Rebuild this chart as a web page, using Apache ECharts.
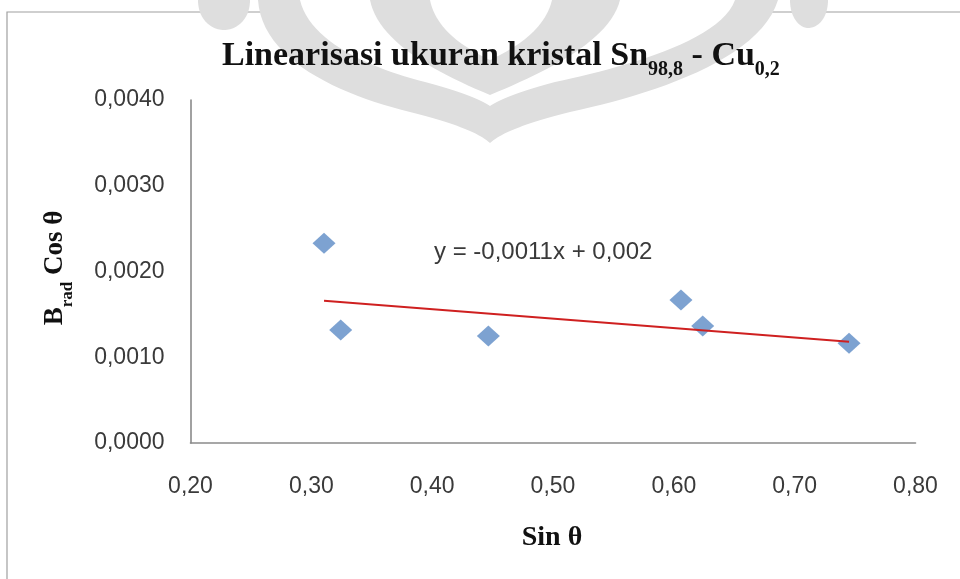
<!DOCTYPE html>
<html>
<head>
<meta charset="utf-8">
<script src="https://cdn.jsdelivr.net/npm/echarts@6/dist/echarts.min.js"></script>
<style>
  html, body { margin: 0; padding: 0; background: #ffffff; }
  #chart { width: 960px; height: 579px; }
</style>
</head>
<body>
<div id="chart"></div>
<script>
// Measured points: Sin θ against B_rad · Cos θ
const sinTheta  = [0.3105, 0.3243, 0.4465, 0.6059, 0.6239, 0.7450];
const bCosTheta = [0.002328, 0.001317, 0.001247, 0.001667, 0.001364, 0.001162];

// Linear trend line as stated in its label
const trendSlope = -0.0011;
const trendIntercept = 0.002;

// Axis ranges and tick steps
const xMin = 0.2, xMax = 0.8, xStep = 0.1;
const yMin = 0, yMax = 0.004, yStep = 0.001;

const comma = (v) => String(v).replace('.', ',');
const fmtX = (v) => v.toFixed(2).replace('.', ',');
const fmtY = (v) => v.toFixed(4).replace('.', ',');

const trendXs = [Math.min(...sinTheta), Math.max(...sinTheta)];
const trendData = trendXs.map(x => [x, trendSlope * x + trendIntercept]);
const scatterData = sinTheta.map((x, i) => [x, bCosTheta[i]]);

const equationText = 'y = ' + comma(trendSlope) + 'x + ' + comma(trendIntercept);

const serif = '"Liberation Serif", "Times New Roman", serif';
const sans = '"Liberation Sans", Arial, sans-serif';
const wm = '#dedede';

// Turn a closed outline of cubic Bézier segments into polygon points
function bezierOutline(start, segs, steps) {
  const pts = [start];
  let p0 = start;
  segs.forEach(([c1, c2, p3]) => {
    for (let i = 1; i <= steps; i++) {
      const t = i / steps, u = 1 - t;
      pts.push([
        u*u*u*p0[0] + 3*u*u*t*c1[0] + 3*u*t*t*c2[0] + t*t*t*p3[0],
        u*u*u*p0[1] + 3*u*u*t*c1[1] + 3*u*t*t*c2[1] + t*t*t*p3[1]
      ]);
    }
    p0 = p3;
  });
  return pts;
}
const emblemPart = (fill, start, segs) => ({
  type: 'polygon', shape: { points: bezierOutline(start, segs, 24) }, style: { fill }
});

const chart = echarts.init(document.getElementById('chart'), null, { renderer: 'canvas' });

chart.setOption({
  backgroundColor: '#ffffff',
  animation: false,
  grid: { left: 190.5, right: 44.5, top: 100, bottom: 136 },
  xAxis: {
    type: 'value',
    min: xMin, max: xMax, interval: xStep,
    axisLine: { show: true, onZero: false, lineStyle: { color: '#8a8a8a', width: 1.6 } },
    axisTick: { show: false },
    splitLine: { show: false },
    axisLabel: {
      formatter: fmtX, margin: 32,
      fontFamily: sans, fontSize: 23, color: '#3a3a3a'
    }
  },
  yAxis: {
    type: 'value',
    min: yMin, max: yMax, interval: yStep,
    axisLine: { show: true, lineStyle: { color: '#8a8a8a', width: 1.6 } },
    axisTick: { show: false },
    splitLine: { show: false },
    axisLabel: {
      formatter: fmtY, margin: 26,
      fontFamily: sans, fontSize: 23, color: '#3a3a3a'
    }
  },
  series: [
    {
      type: 'line',
      data: trendData,
      showSymbol: false,
      symbol: 'none',
      lineStyle: { color: '#cf2020', width: 2 },
      z: 3
    },
    {
      type: 'scatter',
      data: scatterData,
      symbol: 'diamond',
      symbolSize: [23, 21],
      itemStyle: { color: '#5c8bc6' },
      z: 2
    }
  ],
  graphic: [
    // faint emblem behind the chart
    {
      type: 'group', silent: true, z: -10,
      children: [
        emblemPart(wm, [198, 0], [[[198, 20], [212, 30], [224, 30]], [[236, 30], [250, 20], [250, 0]]]),
        emblemPart(wm, [790, 0], [[[790, 18], [800, 28], [808, 28]], [[818, 28], [828, 18], [828, 0]]]),
        emblemPart(wm, [258, 0], [[[262, 60], [340, 95], [410, 112]], [[450, 122], [478, 132], [490, 143]],
                                  [[502, 132], [530, 122], [570, 112]], [[650, 95], [760, 60], [778, 0]]]),
        emblemPart('#ffffff', [300, 0], [[[310, 42], [370, 68], [425, 82]], [[455, 90], [478, 98], [490, 106]],
                                        [[502, 98], [525, 90], [555, 82]], [[620, 68], [720, 42], [735, 0]]]),
        emblemPart(wm, [370, 0], [[[378, 40], [430, 70], [490, 95]], [[550, 70], [610, 40], [620, 0]]]),
        emblemPart('#ffffff', [430, 0], [[[436, 30], [465, 48], [490, 60]], [[515, 48], [545, 30], [552, 0]]])
      ]
    },
    // chart frame
    {
      type: 'rect', silent: true, z: -5,
      shape: { x: 7, y: 12, width: 1000, height: 700 },
      style: { fill: 'none', stroke: '#a0a0a0', lineWidth: 1.2 }
    },
    // chart title with subscripts
    {
      type: 'text', x: 222, y: 39, z: 10,
      style: {
        text: '{m|Linearisasi ukuran kristal Sn}{s|98,8}{m| - Cu}{s|0,2}',
        align: 'left', verticalAlign: 'top',
        rich: {
          m: { fontFamily: serif, fontWeight: 'bold', fontSize: 34, lineHeight: 42, verticalAlign: 'top', fill: '#111111' },
          s: { fontFamily: serif, fontWeight: 'bold', fontSize: 20, lineHeight: 20, padding: [21, 0, 0, 0], verticalAlign: 'top', fill: '#111111' }
        }
      }
    },
    // vertical axis title
    {
      type: 'text', x: 58, y: 268, rotation: Math.PI / 2, z: 10,
      style: {
        text: '{m|B}{s|rad}{m| Cos θ}',
        align: 'center', verticalAlign: 'middle',
        rich: {
          m: { fontFamily: serif, fontWeight: 'bold', fontSize: 27, lineHeight: 32, verticalAlign: 'top', fill: '#111111' },
          s: { fontFamily: serif, fontWeight: 'bold', fontSize: 17, lineHeight: 17, padding: [17, 0, 0, 0], verticalAlign: 'top', fill: '#111111' }
        }
      }
    },
    // horizontal axis title
    {
      type: 'text', x: 552, y: 538, z: 10,
      style: {
        text: 'Sin θ', align: 'center', verticalAlign: 'middle',
        fontFamily: serif, fontWeight: 'bold', fontSize: 28, fill: '#111111'
      }
    },
    // trend line equation
    {
      type: 'text', x: 434, y: 252, z: 10,
      style: {
        text: equationText, align: 'left', verticalAlign: 'middle',
        fontFamily: sans, fontSize: 24, fill: '#3a3a3a'
      }
    }
  ]
});
</script>
</body>
</html>
